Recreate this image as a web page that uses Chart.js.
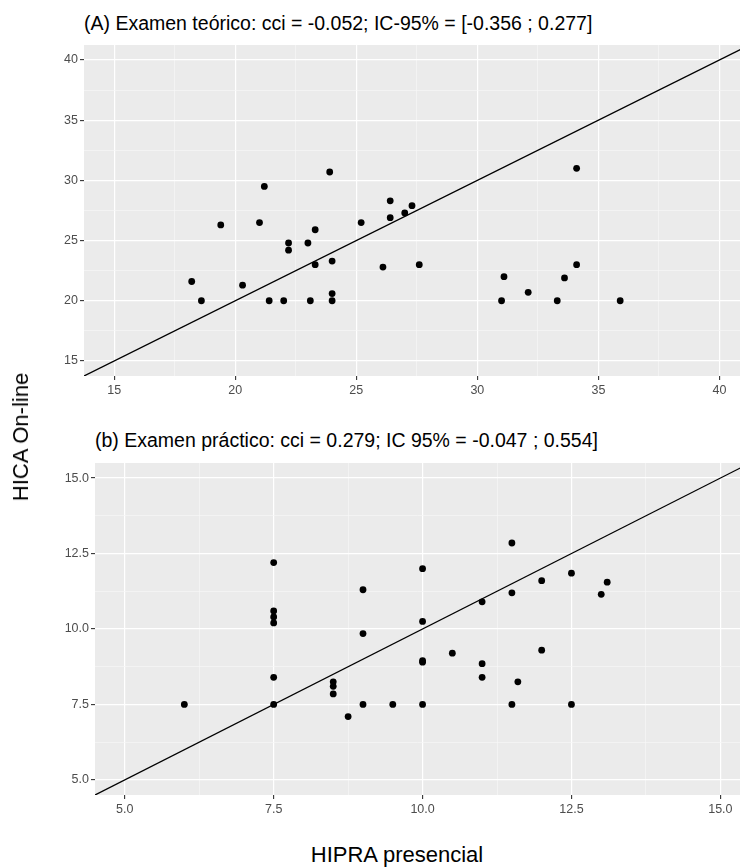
<!DOCTYPE html>
<html>
<head>
<meta charset="utf-8">
<script src="https://cdn.jsdelivr.net/npm/chart.js@4.4.1/dist/chart.umd.min.js"></script>
<style>
  body { margin: 0; width: 744px; height: 868px; overflow: hidden; position: relative; background: #fff;
         font-family: "Liberation Sans", Arial, sans-serif; }
  .box { position: absolute; left: 0; width: 744px; }
  .txt { position: absolute; white-space: nowrap; color: #000; line-height: 1; }
</style>
</head>
<body>
<div class="txt" style="left:84px; top:24px; font-size:19.5px; transform:translateY(-50%)">(A) Examen teórico: cci = -0.052; IC-95% = [-0.356 ; 0.277]</div>
<div class="box" style="top:41px; height:363px"><canvas id="teorico"></canvas></div>

<div class="txt" style="left:95px; top:441px; font-size:19.5px; transform:translateY(-50%)">(b) Examen práctico: cci = 0.279; IC 95% = -0.047 ; 0.554]</div>
<div class="box" style="top:459px; height:364px"><canvas id="practico"></canvas></div>

<div class="txt" style="left:21px; top:437px; font-size:22px; transform:translate(-50%,-50%) rotate(-90deg)">HICA On-line</div>
<div class="txt" style="left:397px; top:855px; font-size:22px; transform:translate(-50%,-50%)">HIPRA presencial</div>

<script>
// (A) examen teórico
const teoricoPresencial = [18.2, 18.6, 19.4, 20.3, 21.0, 21.2, 21.4, 22.0, 22.2, 22.2, 23.0, 23.1, 23.3, 23.3, 23.9, 24.0, 24.0, 24.0,
  25.2, 26.1, 26.4, 26.4, 27.0, 27.3, 27.6, 31.0, 31.1, 32.1, 33.3, 33.6, 34.1, 34.1, 35.9];
const teoricoOnline = [21.6, 20.0, 26.3, 21.3, 26.5, 29.5, 20.0, 20.0, 24.8, 24.2, 24.8, 20.0, 25.9, 23.0, 30.7, 20.0, 20.6, 23.3,
  26.5, 22.8, 28.3, 26.9, 27.3, 27.9, 23.0, 20.0, 22.0, 20.7, 20.0, 21.9, 31.0, 23.0, 20.0];
const teoricoTicks = [15, 20, 25, 30, 35, 40];
const teoricoMinor = [17.5, 22.5, 27.5, 32.5, 37.5];
const teoricoRange = [13.75, 41.25];

// (b) examen práctico
const practicoPresencial = [6.0, 7.5, 7.5, 7.5, 7.5, 7.5, 7.5, 8.5, 8.5, 8.5, 8.75, 9.0, 9.0, 9.0, 9.5, 10.0, 10.0, 10.0, 10.0, 10.0,
  10.5, 11.0, 11.0, 11.0, 11.5, 11.5, 11.5, 11.6, 12.0, 12.0, 12.5, 12.5, 13.0, 13.1];
const practicoOnline = [7.5, 12.2, 10.6, 10.4, 10.2, 8.4, 7.5, 8.25, 8.1, 7.85, 7.1, 11.3, 9.85, 7.5, 7.5, 12.0, 10.25, 8.95, 8.9, 7.5,
  9.2, 10.9, 8.85, 8.4, 12.85, 11.2, 7.5, 8.25, 11.6, 9.3, 11.85, 7.5, 11.15, 11.55];
const practicoTicks = [5, 7.5, 10, 12.5, 15];
const practicoMinor = [6.25, 8.75, 11.25, 13.75];
const practicoRange = [4.5, 15.5];

// grey panel behind the grid, ggplot style
const panelBg = {
  id: 'panelBg',
  beforeDraw(chart) {
    const { ctx, chartArea: a } = chart;
    ctx.save();
    ctx.fillStyle = '#EBEBEB';
    ctx.fillRect(a.left, a.top, a.width, a.height);
    ctx.restore();
  }
};

function makeAxis(major, minor, min, max, fmt, isX, size) {
  const isMajor = v => major.includes(v);
  return {
    type: 'linear',
    min: min,
    max: max,
    afterBuildTicks: s => { s.ticks = major.concat(minor).sort((a, b) => a - b).map(v => ({ value: v })); },
    afterFit: s => {
      if (isX) s.height = size; else s.width = size;
      s.paddingLeft = 0; s.paddingRight = 0; s.paddingTop = 0; s.paddingBottom = 0;
    },
    border: { display: false },
    grid: {
      color: c => (c.tick && isMajor(c.tick.value)) ? '#FFFFFF' : '#F6F6F6',
      lineWidth: c => (c.tick && isMajor(c.tick.value)) ? 1.2 : 0.7,
      tickColor: c => (c.tick && isMajor(c.tick.value)) ? '#333333' : 'rgba(0,0,0,0)',
      tickWidth: 1.1,
      tickLength: 4,
      drawTicks: true
    },
    ticks: {
      autoSkip: false,
      maxRotation: 0,
      padding: isX ? 3 : 2,
      color: '#4D4D4D',
      font: { family: 'Liberation Sans', size: 12.5 },
      callback: v => isMajor(v) ? fmt(v) : ''
    }
  };
}

function scatterPanel(id, xs, ys, major, minor, range, xMax, fmt, yWidth) {
  const pts = xs.map((x, i) => ({ x: x, y: ys[i] }));
  const diag = range.map(v => ({ x: v, y: v }));
  new Chart(document.getElementById(id), {
    type: 'scatter',
    data: {
      datasets: [
        {
          type: 'line',
          data: diag,
          borderColor: '#000000',
          borderWidth: 1.3,
          pointRadius: 0,
          fill: false
        },
        {
          data: pts,
          backgroundColor: '#000000',
          borderWidth: 0,
          pointRadius: 3.4
        }
      ]
    },
    options: {
      responsive: true,
      maintainAspectRatio: false,
      animation: false,
      events: [],
      layout: { padding: 0 },
      scales: {
        x: makeAxis(major, minor, range[0], xMax, fmt, true, 28),
        y: makeAxis(major, minor, range[0], range[1], fmt, false, yWidth)
      },
      plugins: {
        legend: { display: false },
        tooltip: { enabled: false }
      }
    },
    plugins: [panelBg]
  });
}

// right edge of the original figure is cut off, so the x axes stop short of the y range
scatterPanel('teorico', teoricoPresencial, teoricoOnline, teoricoTicks, teoricoMinor, teoricoRange, 40.85, v => String(v), 84);
scatterPanel('practico', practicoPresencial, practicoOnline, practicoTicks, practicoMinor, practicoRange, 15.33, v => v.toFixed(1), 95);
</script>
</body>
</html>
